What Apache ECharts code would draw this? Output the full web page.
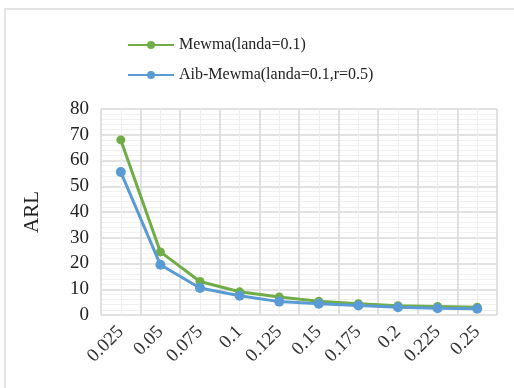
<!DOCTYPE html>
<html>
<head>
<meta charset="utf-8">
<script src="https://cdn.jsdelivr.net/npm/echarts@6/dist/echarts.min.js"></script>
<style>
    html, body { margin: 0; padding: 0; background: #fff; overflow: hidden; }
    #frame { position: absolute; left: 4px; top: 8px; width: 600px; height: 500px; border: 2px solid #e3e3e3; box-sizing: border-box; }
    #echartDiv { position: absolute; left: 0; top: 0; width: 514px; height: 388px; }
</style>
</head>
<body>
<div id="frame"></div>
<div id="echartDiv"></div>
<script>
// shift values
const categories = ['0.025', '0.05', '0.075', '0.1', '0.125', '0.15', '0.175', '0.2', '0.225', '0.25'];
// ARL values
const mewma = [68, 24.5, 13, 9, 7, 5.3, 4.4, 3.6, 3.3, 3];
const aibMewma = [55.5, 19.5, 10.5, 7.5, 5.2, 4.4, 3.7, 3, 2.6, 2.4];
const yTicks = { min: 0, max: 80, step: 10 };

const serif = '"Liberation Serif", "DejaVu Serif", serif';
const green = '#70AD47';
const blue = '#5B9BD5';

let option = {
    animation: false,
    legend: {
        orient: 'vertical',
        left: 122,
        top: 32,
        itemWidth: 46,
        itemHeight: 10,
        itemGap: 14,
        textStyle: { fontFamily: serif, fontSize: 16, color: '#222' },
        data: ['Mewma(landa=0.1)', 'Aib-Mewma(landa=0.1,r=0.5)']
    },
    grid: {
        left: 101,
        right: 17,
        top: 109,
        bottom: 73
    },
    xAxis: [
        {
            type: 'category',
            boundaryGap: true,
            data: categories,
            axisLine: { show: false },
            axisTick: { show: false },
            axisLabel: {
                rotate: 45,
                fontFamily: serif,
                fontSize: 19,
                color: '#333',
                margin: 14
            },
            splitLine: { show: true, lineStyle: { color: '#d8d8d8', width: 1.5 } },
            z: 3
        },
        {
            type: 'value',
            min: 0,
            max: 20,
            interval: 1,
            show: true,
            axisLine: { show: false },
            axisTick: { show: false },
            axisLabel: { show: false },
            splitLine: { show: true, lineStyle: { color: '#eeeeee', width: 1 } }
        }
    ],
    yAxis: {
        type: 'value',
        min: yTicks.min,
        max: yTicks.max,
        interval: yTicks.step,
        name: 'ARL',
        nameLocation: 'middle',
        nameGap: 58,
        nameRotate: 90,
        nameTextStyle: { fontFamily: serif, fontSize: 21, color: '#222' },
        axisLine: { show: false },
        axisTick: { show: false },
        axisLabel: { fontFamily: serif, fontSize: 19, color: '#222', margin: 12 },
        splitLine: { show: true, lineStyle: { color: '#d8d8d8', width: 1.5 } },
        minorTick: { show: false, splitNumber: 5 },
        minorSplitLine: { show: true, lineStyle: { color: '#f0f0f0', width: 1 } }
    },
    series: [
        {
            name: 'Mewma(landa=0.1)',
            type: 'line',
            xAxisIndex: 0,
            data: mewma,
            symbol: 'circle',
            symbolSize: 9,
            itemStyle: { color: green },
            lineStyle: { color: green, width: 3 },
            z: 5
        },
        {
            name: 'Aib-Mewma(landa=0.1,r=0.5)',
            type: 'line',
            xAxisIndex: 0,
            data: aibMewma,
            symbol: 'circle',
            symbolSize: 10,
            itemStyle: { color: blue },
            lineStyle: { color: blue, width: 3 },
            z: 6
        }
    ]
};

let myChart = echarts.init(document.getElementById('echartDiv'));
myChart.setOption(option);
</script>
</body>
</html>
